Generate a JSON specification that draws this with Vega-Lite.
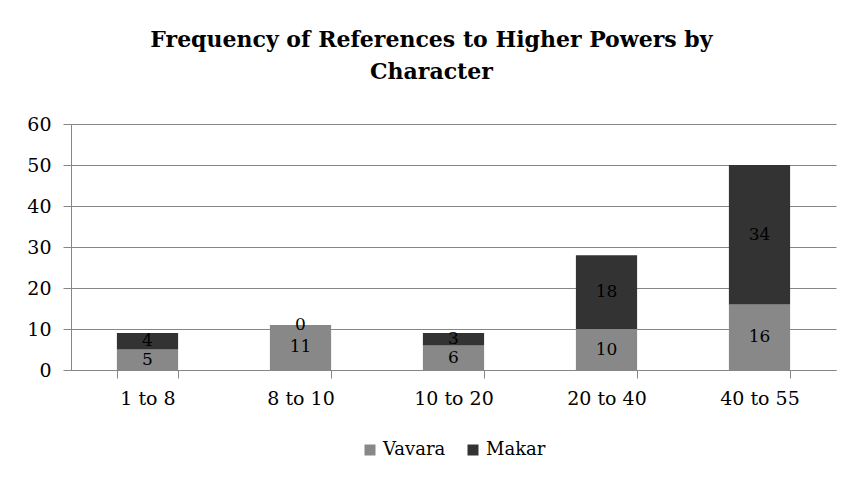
{
  "$schema": "https://vega.github.io/schema/vega-lite/v6.json",
  "width": 854,
  "height": 477,
  "autosize": {"type": "fit", "contains": "padding"},
  "padding": {"left": 26, "top": 29, "right": 18, "bottom": 18},
  "background": "white",
  "title": {
    "text": ["Frequency of References to Higher Powers by", "Character"],
    "font": "DejaVu Serif",
    "fontSize": 22,
    "fontWeight": "bold",
    "lineHeight": 32,
    "color": "black",
    "anchor": "middle",
    "frame": "bounds",
    "offset": 31
  },
  "data": {
    "values": [
      {"range": "1 to 8", "character": "Vavara", "count": 5},
      {"range": "1 to 8", "character": "Makar", "count": 4},
      {"range": "8 to 10", "character": "Vavara", "count": 11},
      {"range": "8 to 10", "character": "Makar", "count": 0},
      {"range": "10 to 20", "character": "Vavara", "count": 6},
      {"range": "10 to 20", "character": "Makar", "count": 3},
      {"range": "20 to 40", "character": "Vavara", "count": 10},
      {"range": "20 to 40", "character": "Makar", "count": 18},
      {"range": "40 to 55", "character": "Vavara", "count": 16},
      {"range": "40 to 55", "character": "Makar", "count": 34}
    ]
  },
  "transform": [
    {"stack": "count", "groupby": ["range"], "sort": [{"field": "character", "order": "descending"}], "as": ["y0", "y1"]},
    {"calculate": "(datum.y0 + datum.y1) / 2", "as": "mid"}
  ],
  "encoding": {
    "x": {
      "field": "range",
      "type": "nominal",
      "sort": ["1 to 8", "8 to 10", "10 to 20", "20 to 40", "40 to 55"],
      "title": null,
      "scale": {"paddingInner": 0.6, "paddingOuter": 0.3},
      "axis": {
        "labelAngle": 0,
        "labelFont": "DejaVu Serif",
        "labelFontSize": 19,
        "labelColor": "black",
        "labelPadding": 11,
        "tickBand": "extent",
        "tickSize": 8,
        "tickColor": "#868686",
        "domainColor": "#868686",
        "grid": false
      }
    }
  },
  "layer": [
    {
      "mark": {"type": "bar"},
      "encoding": {
        "y": {
          "field": "y0",
          "type": "quantitative",
          "scale": {"domain": [0, 60]},
          "title": null,
          "axis": {
            "values": [0, 10, 20, 30, 40, 50, 60],
            "labelFont": "DejaVu Serif",
            "labelFontSize": 19,
            "labelColor": "black",
            "labelPadding": 12,
            "tickSize": 8,
            "tickColor": "#868686",
            "domainColor": "#868686",
            "gridColor": "#868686",
            "gridOpacity": 1
          }
        },
        "y2": {"field": "y1"},
        "color": {
          "field": "character",
          "type": "nominal",
          "sort": ["Vavara", "Makar"],
          "scale": {"domain": ["Vavara", "Makar"], "range": ["#888888", "#333333"]},
          "legend": {
            "title": null,
            "orient": "bottom",
            "direction": "horizontal",
            "labelFont": "DejaVu Serif",
            "labelFontSize": 18,
            "labelColor": "black",
            "symbolType": "square",
            "symbolSize": 121,
            "symbolStrokeWidth": 0,
            "columnPadding": 18,
            "offset": 33
          }
        }
      }
    },
    {
      "mark": {"type": "text", "font": "DejaVu Serif", "fontSize": 17, "color": "black", "baseline": "middle"},
      "encoding": {
        "y": {"field": "mid", "type": "quantitative"},
        "text": {"field": "count", "type": "quantitative"}
      }
    }
  ],
  "config": {
    "view": {"stroke": null},
    "legend": {"layout": {"bottom": {"anchor": "middle"}}}
  }
}
